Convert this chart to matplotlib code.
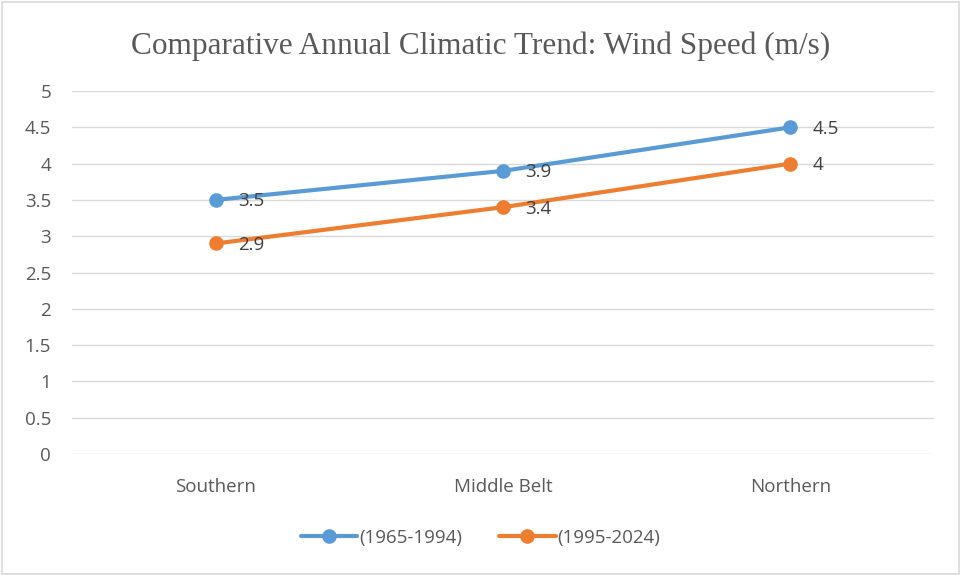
import matplotlib.pyplot as plt
from matplotlib.patches import Rectangle

regions = ['Southern', 'Middle Belt', 'Northern']
period_1 = [3.5, 3.9, 4.5]
period_2 = [2.9, 3.4, 4.0]
series_names = ['(1965-1994)', '(1995-2024)']
yticks = [0, 0.5, 1, 1.5, 2, 2.5, 3, 3.5, 4, 4.5, 5]

text_gray = '#595959'
plt.rcParams['font.family'] = ['Open Sans', 'DejaVu Sans']

fig = plt.figure(figsize=(9.61, 5.75), dpi=100)
fig.patches.append(Rectangle((0.002, 0.002), 0.996, 0.995, transform=fig.transFigure,
                             fill=False, edgecolor='#d9d9d9', linewidth=1.2))
ax = fig.add_axes([0.0749, 0.2104, 0.8971, 0.6313])

x = range(len(regions))
colors = ['#5b9bd5', '#ed7d31']
for vals, name, c in zip([period_1, period_2], series_names, colors):
    ax.plot(x, vals, '-o', color=c, lw=3, ms=9.5, label=name, solid_capstyle='round')
    for xi, v in zip(x, vals):
        ax.annotate(f'{v:g}', (xi, v), xytext=(16, -1), textcoords='offset points',
                    va='center', ha='left', fontsize=13.5, color='#404040')

ax.set_xlim(-0.5, 2.5)
ax.set_ylim(0, 5)
ax.set_yticks(yticks)
ax.set_yticklabels([f'{t:g}' for t in yticks])
ax.set_xticks(list(x))
ax.set_xticklabels(regions)
ax.tick_params(length=0, labelsize=13.5, labelcolor=text_gray)
ax.tick_params(axis='x', pad=17)
ax.tick_params(axis='y', pad=15)
ax.grid(axis='y', color='#d9d9d9', lw=1)
ax.set_axisbelow(True)
for s in ax.spines.values():
    s.set_visible(False)

fig.text(0.5, 0.92, 'Comparative Annual Climatic Trend: Wind Speed (m/s)',
         ha='center', va='center', fontsize=22.5, color=text_gray,
         family='Liberation Serif')

fig.legend(loc='center', bbox_to_anchor=(0.5, 0.065), ncol=2, frameon=False,
           fontsize=13.5, labelcolor=text_gray, handlelength=3.0, handletextpad=0.1,
           columnspacing=2.0)

fig.savefig('out.png', dpi=100)
